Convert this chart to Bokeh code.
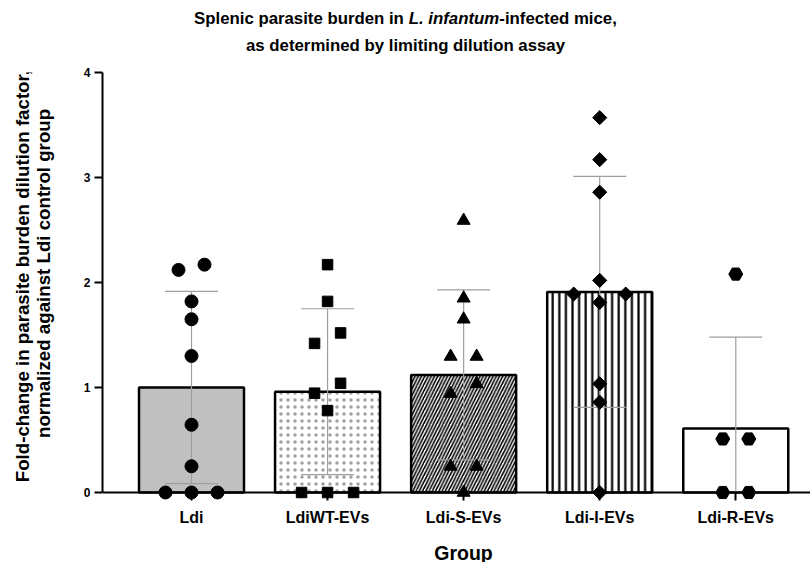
import math
from bokeh.plotting import figure
from bokeh.models import Range1d, FixedTicker, Label, Span
from bokeh.layouts import column, row
from bokeh.embed import file_html
from bokeh.resources import INLINE

# ---------------- data ----------------
groups = ["Ldi", "LdiWT-EVs", "Ldi-S-EVs", "Ldi-I-EVs", "Ldi-R-EVs"]
means = [1.00, 0.96, 1.12, 1.91, 0.61]
sds = [0.915, 0.79, 0.81, 1.10, 0.87]

ldi_vals = [2.12, 2.17, 1.82, 1.65, 1.30, 0.645, 0.25, 0.0, 0.0, 0.0]
ldiwt_vals = [2.17, 1.82, 1.52, 1.42, 1.04, 0.946, 0.78, 0.0, 0.0, 0.0]
ldis_vals = [2.59, 1.85, 1.65, 1.295, 1.295, 1.035, 0.94, 0.248, 0.248, 0.0]
ldii_vals = [3.57, 3.17, 2.86, 2.02, 1.89, 1.89, 1.81, 1.035, 0.86, 0.0]
ldir_vals = [2.08, 0.51, 0.51, 0.0, 0.0]

y_ticks = [0, 1, 2, 3, 4]

title_pre = "Splenic parasite burden in "
title_ital = "L. infantum"
title_post = "-infected mice,"
title_line2 = "as determined by limiting dilution assay"
ylabel_1 = "Fold-change in parasite burden dilution factor,"
ylabel_2 = "normalized against Ldi control group"
xlabel = "Group"

# ---------------- layout constants (canvas pixels) ----------------
W, H = 810, 562
TOP_H = 60            # title strip
LEFT_W = 60           # y-label strip
BOT_H = 27            # x-label strip
MID_H = H - TOP_H - BOT_H
FL, FR, FT, FB = 102, 810, 72, 500     # frame of the main plot on the canvas
PXX = 136.07          # px per category step
PXY = 105.0           # px per y unit
ZERO_PX = 492
X0 = -(191 - FL) / PXX
X1 = X0 + (FR - FL) / PXX
Y0 = -(FB - ZERO_PX) / PXY
FONT = "Liberation Sans"
BASE_FIX = 5          # Label baselines render a little low


def text_fig(w, h):
    f = figure(width=w, height=h, x_range=Range1d(0, w), y_range=Range1d(h, 0),
               output_backend="svg", toolbar_location=None, title=None,
               min_border=0, min_border_left=0, min_border_right=0,
               min_border_top=0, min_border_bottom=0,
               x_axis_type=None, y_axis_type=None)
    f.outline_line_color = None
    f.xgrid.visible = False
    f.ygrid.visible = False
    f.background_fill_color = "white"
    f.border_fill_color = "white"
    return f


# ---------------- main plot ----------------
p = figure(width=W - LEFT_W, height=MID_H, x_range=Range1d(X0, X1), y_range=Range1d(Y0, 4),
           output_backend="svg", toolbar_location=None, title=None,
           min_border_left=FL - LEFT_W, min_border_right=W - FR,
           min_border_top=FT - TOP_H, min_border_bottom=TOP_H + MID_H - FB)
p.outline_line_color = None
p.xgrid.visible = False
p.ygrid.visible = False
p.background_fill_color = "white"
p.border_fill_color = "white"

ya = p.yaxis[0]
ya.ticker = FixedTicker(ticks=y_ticks)
ya.bounds = (0, 4)
ya.axis_line_width = 2
ya.axis_line_color = "black"
ya.major_tick_out = 8
ya.major_tick_in = 0
ya.major_tick_line_width = 2
ya.minor_tick_line_color = None
ya.major_label_text_font = FONT
ya.major_label_text_font_style = "bold"
ya.major_label_text_font_size = "12px"
ya.major_label_text_color = "black"
ya.major_label_standoff = 4

xa = p.xaxis[0]
xa.ticker = FixedTicker(ticks=list(range(len(groups))))
xa.major_label_overrides = {i: g for i, g in enumerate(groups)}
xa.axis_line_color = None
xa.major_tick_in = 8
xa.major_tick_out = 0
xa.major_tick_line_width = 2
xa.major_tick_line_color = "black"
xa.minor_tick_line_color = None
xa.major_label_text_font = FONT
xa.major_label_text_font_style = "bold"
xa.major_label_text_font_size = "16px"
xa.major_label_text_color = "black"
xa.major_label_standoff = 8

# bars
BAR_W = 105 / PXX
styles = [
    dict(fill_color="#c0c0c0"),
    dict(fill_color="white", hatch_pattern="dot", hatch_color="#a0a0a0",
         hatch_scale=7, hatch_weight=1.8),
    dict(fill_color="white", hatch_pattern="right_diagonal_line", hatch_color="black",
         hatch_scale=6.5, hatch_weight=1.6),
    dict(fill_color="white", hatch_pattern="vertical_line", hatch_color="black",
         hatch_scale=6.6, hatch_weight=2.2),
    dict(fill_color="white"),
]
for i, m in enumerate(means):
    p.vbar(x=[i], top=[m], bottom=0, width=BAR_W, line_color="black",
           line_width=2.5, **styles[i])

# error bars (mean +/- SD)
CAP = 53 / PXX
wx, wy0, wy1 = [], [], []
cx0, cx1, cy = [], [], []
for i, (m, s) in enumerate(zip(means, sds)):
    lo, hi = m - s, m + s
    wx.append(i)
    wy0.append(max(lo, 0))
    wy1.append(hi)
    cx0.append(i - CAP / 2); cx1.append(i + CAP / 2); cy.append(hi)
    if lo >= 0:
        cx0.append(i - CAP / 2); cx1.append(i + CAP / 2); cy.append(lo)
p.segment(x0=wx, y0=wy0, x1=wx, y1=wy1, line_color="#9e9e9e", line_width=1.2)
p.segment(x0=cx0, y0=cy, x1=cx1, y1=cy, line_color="#9e9e9e", line_width=1.2)

# x axis line at y=0
p.add_layout(Span(location=0, dimension="width", line_color="black", line_width=2))


# swarm layout of the individual points
def swarm(vals, step_px=26.0, thresh_px=13.0):
    order = sorted(range(len(vals)), key=lambda k: vals[k])
    clusters, cur = [], [order[0]]
    for k in order[1:]:
        if (vals[k] - vals[cur[-1]]) * PXY < thresh_px:
            cur.append(k)
        else:
            clusters.append(cur)
            cur = [k]
    clusters.append(cur)
    offs = [0.0] * len(vals)
    for c in clusters:
        n = len(c)
        slots = sorted(range(n), key=lambda j: (abs(j - (n - 1) / 2), j))
        for member, slot in zip(c, slots):
            offs[member] = (slot - (n - 1) / 2) * step_px / PXX
    return offs


all_vals = [ldi_vals, ldiwt_vals, ldis_vals, ldii_vals, ldir_vals]
markers = [("circle", 13, 0), ("square", 10.5, 0), ("triangle", 13, 0),
           ("square", 10, math.pi / 4), ("hex", 14, 0)]
for i, vals in enumerate(all_vals):
    offs = swarm(vals)
    mk, sz, ang = markers[i]
    p.scatter(x=[i + o for o in offs], y=vals, marker=mk, size=sz, angle=ang,
              fill_color="black", line_color="black")

# ---------------- title strip ----------------
t = text_fig(W, TOP_H)
TFS = 16.8
w_pre = 12.782 * TFS
w_ital = 5.389 * TFS
w_post = 7.002 * TFS
x_start = 405 - (w_pre + w_ital + w_post) / 2
common = dict(text_font=FONT, text_font_size=f"{TFS}px", text_color="black",
              text_baseline="alphabetic")
t.add_layout(Label(x=x_start, y=23 - BASE_FIX, text=title_pre, text_font_style="bold",
                   text_align="left", **common))
t.add_layout(Label(x=x_start + w_pre, y=23 - BASE_FIX, text=title_ital,
                   text_font_style="bold italic", text_align="left", **common))
t.add_layout(Label(x=x_start + w_pre + w_ital, y=23 - BASE_FIX, text=title_post,
                   text_font_style="bold", text_align="left", **common))
t.add_layout(Label(x=405, y=50 - BASE_FIX, text=title_line2, text_font_style="bold",
                   text_align="center", **common))

# ---------------- y-label strip ----------------
lft = text_fig(LEFT_W, MID_H)
ycommon = dict(angle=math.pi / 2, text_font=FONT, text_font_style="bold",
               text_font_size="18.7px", text_align="center", text_baseline="middle",
               text_color="black")
lft.add_layout(Label(x=22, y=286 - TOP_H, text=ylabel_1, **ycommon))
lft.add_layout(Label(x=43, y=283 - TOP_H, text=ylabel_2, **ycommon))

# ---------------- x-label strip ----------------
bot = text_fig(W, BOT_H)
bot.add_layout(Label(x=463, y=557 - BASE_FIX - (TOP_H + MID_H), text=xlabel, text_font=FONT,
                     text_font_style="bold", text_font_size="19.5px",
                     text_align="center", text_baseline="alphabetic", text_color="black"))

layout = column(t, row(lft, p, spacing=0), bot, spacing=0)
open("out.html", "w").write(file_html(layout, INLINE))
